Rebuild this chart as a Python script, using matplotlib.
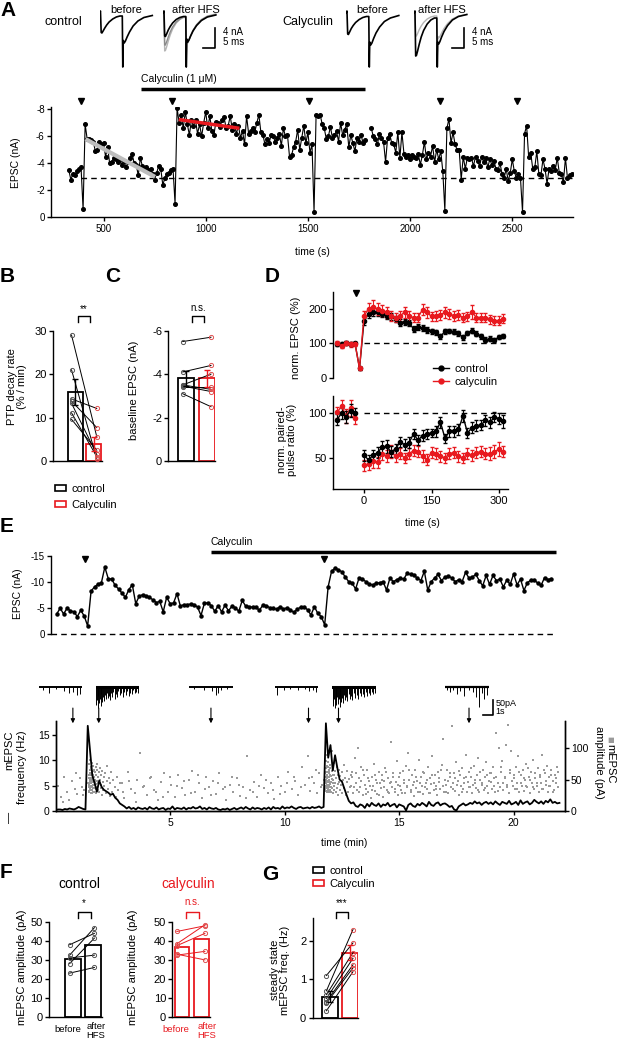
import numpy as np
import matplotlib.pyplot as plt
from matplotlib.patches import Patch
from matplotlib.lines import Line2D

plt.rcParams['font.family'] = ['Liberation Sans', 'DejaVu Sans']
plt.rcParams['axes.unicode_minus'] = False
plt.rcParams['font.size'] = 7
plt.rcParams['axes.linewidth'] = 1.0
plt.rcParams['xtick.major.width'] = 1.0
plt.rcParams['ytick.major.width'] = 1.0
plt.rcParams['xtick.major.size'] = 3
plt.rcParams['ytick.major.size'] = 3
plt.rcParams['xtick.major.pad'] = 2
plt.rcParams['ytick.major.pad'] = 1.5

W, H = 617, 1042
RED = '#e8191f'

# ---------------- data ----------------
# A: example traces (ms, nA)
tr_t = [0, 0.4, 0.7, 1.0, 1.5, 2.2, 3.0, 4.0, 5.5, 7.0, 8.5, 9.5, 9.7, 9.9, 10.3, 10.8, 11.5, 12.5, 14.0, 16.0, 18.5, 22.0]
ctrl_before = [0, 0.4, -3.9, -4.0, -3.6, -3.0, -2.4, -1.8, -1.2, -0.8, -0.6, -0.6, -10.8, -5.5, -6.0, -5.6, -4.8, -3.8, -2.6, -1.6, -0.9, -0.5]
ctrl_after = [0, 0.4, -4.6, -4.7, -4.2, -3.4, -2.7, -2.0, -1.3, -0.9, -0.7, -0.7, -10.8, -5.2, -5.8, -5.4, -4.6, -3.6, -2.5, -1.5, -0.8, -0.4]
ctrl_after_g1 = [0, 0.4, -7.6, -7.5, -6.8, -5.6, -4.4, -3.2, -2.0, -1.3, -0.9, -0.9, -10.8, -5.6, -6.0, -5.5, -4.6, -3.5, -2.3, -1.3, -0.6, -0.2]
ctrl_after_g2 = [0, 0.4, -6.4, -6.4, -5.8, -4.8, -3.8, -2.8, -1.8, -1.2, -0.8, -0.8, -10.8, -5.4, -5.9, -5.4, -4.6, -3.5, -2.4, -1.4, -0.7, -0.3]
caly_before = [0, 0.4, -4.2, -4.3, -3.8, -3.1, -2.5, -1.9, -1.3, -0.9, -0.7, -0.7, -10.8, -5.8, -6.4, -6.0, -5.1, -4.0, -2.8, -1.7, -1.0, -0.5]
caly_after = [0, 0.4, -8.6, -8.5, -7.6, -6.2, -4.8, -3.5, -2.2, -1.4, -1.0, -1.0, -10.8, -5.8, -6.2, -5.7, -4.8, -3.7, -2.5, -1.4, -0.7, -0.3]
caly_after_g = [0, 0.4, -4.6, -4.6, -4.1, -3.3, -2.6, -1.9, -1.2, -0.8, -0.6, -0.6, -10.8, -4.7, -5.0, -4.7, -4.0, -3.1, -2.1, -1.2, -0.6, -0.3]

# A: EPSC amplitude (nA), one point every 10 s starting at 330 s
epsc_seg0 = [-3.5, -2.8, -3.2, -3.1, -3.4, -3.6, -3.7]
epsc_seg1 = [-6.9, -5.8, -5.8, -5.7, -5.6, -4.9, -5.0, -5.6, -5.4, -5.5, -4.5, -5.2, -4.0, -4.1, -4.4,
             -4.3, -4.1, -4.3, -3.9, -4.2, -3.7, -4.1, -4.4, -4.7, -4.0, -3.9, -3.1, -4.4, -3.8, -3.6,
             -3.7, -3.5, -3.6, -3.2, -2.8, -3.3, -3.8, -3.6, -2.4, -2.9, -3.2, -3.3, -3.5, -3.6]
epsc_seg2 = [-8.1, -7.0, -7.6, -6.6, -7.8, -6.9, -6.1, -7.2, -6.8, -7.2, -6.2, -6.9, -6.0, -7.0, -7.8,
             -6.6, -7.5, -6.4, -6.1, -7.1, -7.0, -6.7, -7.2, -7.4, -6.6, -6.8, -7.5, -6.5, -6.9, -6.2,
             -6.8, -5.9, -6.4, -5.4, -7.5, -6.2, -6.4, -6.6, -6.3, -7.0, -7.6, -6.3, -6.1, -5.4, -5.8,
             -5.5, -6.1, -6.0, -5.6, -5.9, -6.2, -5.3, -6.6, -6.0, -6.1, -4.5, -4.6, -5.2, -5.6, -6.5,
             -5.0, -5.9, -6.8, -5.5, -6.3, -4.8, -5.4]
epsc_seg3 = [-7.6, -7.5, -7.6, -6.9, -6.6, -5.8, -6.0, -6.7, -5.9, -6.1, -6.4, -5.6, -7.0, -6.1, -6.5,
             -6.9, -5.2, -6.1, -5.5, -4.9, -5.9, -5.6, -6.1, -5.5, -5.7]
epsc_seg4 = [-6.6, -6.0, -5.8, -5.4, -6.2, -5.9, -5.6, -4.1, -5.9, -6.2, -5.5, -5.4, -4.8, -6.3, -4.4,
             -6.3, -4.7, -4.5, -4.6, -4.3, -4.6, -4.5, -4.4, -4.7, -3.9, -4.6, -5.6, -4.3, -4.8, -4.5,
             -5.3, -4.1, -5.0, -4.3, -4.9, -3.4]
epsc_seg5 = [-6.6, -7.3, -5.5, -6.3, -5.4, -5.0, -5.0, -2.8, -4.5, -3.6, -4.4, -4.3, -4.4, -3.8, -4.5,
             -4.2, -3.8, -4.5, -4.1, -4.4, -3.7, -4.3, -3.9, -4.2, -3.6, -3.5, -4.0, -3.2, -2.9, -3.6,
             -2.7, -3.3, -4.3, -3.4, -2.9, -3.2, -2.9]
epsc_seg6 = [-6.2, -6.8, -4.5, -4.8, -3.6, -3.7, -4.9, -3.2, -3.1, -4.3, -3.6, -2.5, -3.6, -3.4, -3.8,
             -3.5, -4.4, -3.3, -3.2, -2.6, -4.4, -2.9, -3.1, -3.2]
hfs_drop = [-0.6, -1.0, -0.4, -0.5, -0.4]
epsc_a = (epsc_seg0 + [hfs_drop[0]] + epsc_seg1 + [hfs_drop[1]] + epsc_seg2 + [hfs_drop[2]] +
          epsc_seg3 + [np.nan, np.nan] + epsc_seg4 + [hfs_drop[3]] + epsc_seg5 + [hfs_drop[4]] + epsc_seg6)
epsc_t = 330 + 10 * np.arange(len(epsc_a))
hfs_t = [389, 837, 1507, 2148, 2524]
calyA_on = [683, 1779]
fit_grey_t, fit_grey_v = [412, 752], [-5.8, -3.0]
fit_red_t, fit_red_v = [868, 1165], [-7.25, -6.6]
baseline_A = -2.9

# B, C
b_means, b_err = [15.9, 3.9], [2.9, 1.7]
b_ctrl = [29.0, 21.0, 14.3, 13.8, 13.3, 11.1, 9.6]
b_caly = [5.6, 0.5, 12.1, 7.7, 1.5, 1.0, 2.5]
c_means, c_err = [-3.8, -3.8], [0.35, 0.4]
c_ctrl = [-5.5, -4.1, -3.5, -3.5, -3.45, -3.4, -3.1]
c_caly = [-5.7, -4.4, -3.3, -4.0, -3.2, -3.4, -2.5]

# D: normalised EPSC and paired-pulse ratio (%)
d_t = np.r_[np.arange(-60, 0, 10), np.arange(0, 320, 10)]
dtop_ctrl = [98, 97, 101, 98, 100, 27, 165, 185, 192, 190, 186, 180, 178, 170, 160, 163,
             160, 142, 147, 145, 138, 135, 132, 120, 135, 136, 134, 129, 117, 130, 137, 128,
             120, 110, 113, 110, 118, 121]
dtop_ctrl_err = [5, 6, 5, 6, 5, 4, 12, 12, 12, 11, 10, 10, 9, 9, 10, 9, 9, 9, 8, 8, 8, 8, 7, 7,
                 7, 7, 7, 7, 7, 7, 7, 7, 7, 7, 7, 6, 6, 6]
dtop_caly = [100, 93, 100, 97, 99, 27, 180, 200, 205, 200, 195, 190, 180, 175, 180, 190,
             178, 175, 175, 198, 190, 178, 180, 183, 190, 185, 180, 182, 175, 178, 190, 175,
             175, 175, 170, 165, 165, 172]
dtop_caly_err = [6, 8, 6, 7, 6, 4, 15, 18, 20, 18, 17, 15, 15, 14, 14, 16, 15, 14, 14, 16, 15,
                 14, 14, 14, 15, 14, 14, 15, 14, 14, 20, 14, 14, 14, 13, 13, 13, 14]
dbot_ctrl = [93, 100, 96, 103, 100, np.nan, 53, 48, 53, 56, 62, 63, 57, 60, 68, 65, 67, 77,
             70, 75, 77, 78, 80, 90, 72, 80, 80, 82, 97, 78, 84, 86, 87, 92, 90, 96, 94, 91]
dbot_ctrl_err = [6, 6, 7, 7, 6, 0, 6, 5, 6, 6, 7, 7, 6, 6, 6, 6, 6, 6, 6, 6, 6, 5, 6, 6, 5, 6,
                 6, 6, 7, 6, 6, 6, 6, 6, 6, 6, 6, 7]
dbot_caly = [101, 108, 97, 106, 95, np.nan, 42, 43, 47, 45, 55, 52, 57, 52, 55, 50, 55, 58,
             57, 52, 48, 56, 55, 52, 50, 55, 56, 52, 50, 55, 53, 56, 57, 55, 55, 57, 60, 57]
dbot_caly_err = [6, 7, 8, 9, 7, 0, 6, 6, 8, 6, 7, 7, 7, 6, 6, 6, 6, 6, 6, 7, 6, 6, 6, 6, 6, 6,
                 6, 6, 6, 6, 6, 6, 6, 6, 7, 7, 8, 6]
hfs_d = -18

# E top: EPSC amplitude (nA, magnitude), one point every 0.15 min
e_epsc = [3.8, 4.9, 3.8, 4.9, 4.4, 4.2, 3.3, 4.5, 3.4, 1.5,
          8.2, 9.0, 9.5, 9.8, 12.8, 10.6, 10.5, 9.3, 8.6, 7.8, 7.0, 8.5, 9.4, 5.8, 7.2, 7.5, 7.3,
          7.0, 6.5, 6.0, 6.2, 4.2, 7.0, 5.8, 5.9, 7.7, 5.3, 5.6, 5.6, 5.7, 5.6, 5.1, 3.5, 5.9,
          5.9, 5.4, 4.3, 5.4, 4.2, 5.5, 4.4, 5.3, 5.0, 4.3, 6.4, 5.3, 5.2, 5.1, 5.1, 4.5, 5.5,
          5.4, 5.0, 4.9, 4.7,
          5.2, 4.7, 5.0, 4.6, 4.1, 4.7, 5.1, 5.2, 4.6, 3.6, 5.2, 3.9, 3.3, 1.7,
          9.0, 12.0, 12.6, 12.3, 11.9, 10.9, 10.0, 9.7, 8.6, 10.7, 10.5, 10.0, 9.5, 9.4, 9.7,
          9.8, 10.0, 8.4, 10.7, 10.0, 10.4, 10.7, 10.5, 11.6, 11.4, 11.2, 10.7, 10.2, 12.0, 8.4,
          10.0, 10.7, 11.4, 10.2, 10.9, 11.1, 10.7, 10.0, 10.4, 10.0, 11.8, 10.7, 10.9, 11.4,
          10.2, 9.2, 11.2, 9.5, 11.2, 10.2,
          10.5, 9.0, 10.3, 9.5, 11.5, 9.4, 10.5, 8.3, 9.8, 10.3, 10.4, 9.7, 9.3, 10.8, 10.4, 10.6]
e_t = 0.05 + 0.15 * np.arange(len(e_epsc))
hfs_e = [1.3, 11.7]
calyE_on = [6.78, 21.85]

# E bottom: mEPSC frequency (Hz), every 0.1 min
freq_hz = [0.2, 0.3, 0.3, 0.2, 0.4, 0.3, 0.5, 0.4, 0.3, 0.5,
           0.8, 0.6, 0.4, 0.3, 16.8, 12.0, 7.0, 5.5, 3.8, 6.0,
           4.8, 4.2, 3.9, 3.6, 3.2, 3.4, 2.6, 2.2, 1.5, 1.2,
           0.9, 0.5, 0.8, 0.4, 0.6, 0.3, 0.7, 0.5, 0.4, 0.6,
           0.3, 0.8, 0.5, 0.4, 0.7, 0.3, 0.5, 0.6, 0.2, 0.5,
           0.4, 0.9, 0.3, 0.6, 0.5, 0.4, 0.7, 0.3, 0.6, 0.5,
           0.8, 0.5, 0.6, 0.9, 0.4, 0.6, 0.3, 0.7, 0.5, 0.4,
           0.6, 0.3, 0.2, 0.4, 0.3, 0.5, 0.2, 0.4, 0.6, 0.3,
           0.5, 0.7, 0.4, 0.8, 0.5, 0.3, 0.7, 0.4, 0.6, 0.5,
           0.3, 0.6, 0.4, 0.7, 0.3, 0.8, 0.5, 0.6, 0.4, 0.9,
           0.5, 0.7, 0.6, 0.9, 0.6, 0.4, 0.7, 0.8, 0.5, 0.6,
           0.7, 0.5, 0.8, 0.6, 0.7, 0.9, 0.6, 0.8, 17.3, 10.5,
           13.0, 8.0, 11.0, 8.5, 6.2, 5.8, 4.5, 3.2, 2.0, 1.5,
           1.7, 1.0, 0.8, 1.3, 1.1, 0.6, 1.4, 0.9, 1.6, 1.2,
           1.0, 1.5, 0.8, 1.3, 1.1, 1.6, 0.9, 1.2, 1.4, 0.7,
           1.3, 1.1, 0.9, 0.1, 1.2, 1.5, 1.0, 0.8, 1.4, 1.1,
           1.6, 1.3, 0.9, 1.8, 1.2, 1.0, 1.5, 1.7, 1.1, 1.4,
           1.5, 1.2, 0.8, 1.0, 0.3, 0.1, 0.9, 1.2, 1.5, 1.1,
           1.3, 1.6, 1.4, 1.9, 1.5, 1.7, 1.2, 1.6, 1.8, 1.4,
           1.7, 1.3, 1.9, 1.5, 1.2, 1.8, 1.6, 1.4, 2.0, 1.3,
           1.5, 1.8, 1.2, 2.1, 1.4, 1.7, 1.9, 1.3, 1.6, 2.2,
           1.8, 1.5, 1.9, 1.4, 2.0, 1.7, 2.3, 1.6, 1.8, 1.5, 1.6]
freq_t = 0.1 * np.arange(len(freq_hz))

# E bottom: mEPSC events (time min, amplitude pA) as flat pairs
pre_ev = [0.12, 40, 0.25, 22, 0.38, 55, 0.5, 30, 0.6, 18, 0.72, 48, 0.85, 35, 0.95, 27, 1.05, 52,
          1.15, 38, 1.25, 33, 1.35, 45, 0.3, 15, 0.9, 60, 1.2, 25]
burst1_ev = [1.44, 32, 1.45, 58, 1.46, 75, 1.47, 42, 1.48, 65, 1.49, 36, 1.50, 82, 1.51, 50, 1.52, 70,
             1.53, 28, 1.54, 60, 1.55, 45, 1.56, 68, 1.57, 34, 1.58, 77, 1.59, 52, 1.60, 40, 1.61, 63,
             1.62, 47, 1.63, 72, 1.64, 31, 1.65, 56, 1.66, 42, 1.67, 66, 1.68, 37, 1.69, 54, 1.70, 46,
             1.71, 30, 1.72, 62, 1.73, 50, 1.74, 70, 1.75, 35, 1.76, 57, 1.77, 43, 1.78, 28, 1.79, 65,
             1.80, 48, 1.81, 38, 1.82, 75, 1.83, 33, 1.84, 55, 1.86, 44, 1.88, 62, 1.90, 30, 1.92, 50,
             1.94, 68, 1.96, 36, 1.98, 57, 2.00, 42, 2.02, 25, 2.04, 64, 2.06, 46, 2.08, 33, 2.10, 55,
             2.13, 40, 2.16, 60, 2.19, 28, 2.22, 48, 2.25, 72, 2.28, 35, 2.31, 52, 2.35, 24, 2.39, 45,
             2.43, 62, 2.47, 30, 2.52, 50, 2.57, 38, 2.62, 22, 2.67, 55, 2.73, 33, 2.79, 45,
             1.445, 45, 1.455, 38, 1.465, 52, 1.475, 30, 1.485, 48, 1.495, 60, 1.505, 35, 1.515, 44,
             1.525, 57, 1.535, 40, 1.545, 33, 1.555, 53, 1.565, 47, 1.575, 39, 1.585, 61, 1.595, 29,
             1.605, 49, 1.615, 36, 1.625, 58, 1.635, 41]
base_ev = [2.9, 45, 3.0, 20, 3.15, 62, 3.3, 35, 3.45, 28, 3.55, 50, 3.7, 92, 3.85, 40, 4.0, 25,
           4.15, 55, 4.3, 33, 4.45, 18, 4.6, 47, 4.75, 60, 4.9, 30, 5.05, 42, 5.2, 22, 5.35, 58,
           5.5, 37, 5.65, 26, 5.8, 50, 5.95, 63, 6.1, 31, 6.25, 44, 6.4, 20, 6.55, 55, 6.7, 38,
           6.85, 48, 7.0, 27, 7.15, 60, 7.3, 35, 7.45, 18, 7.6, 42, 7.75, 30, 7.9, 52, 8.05, 24,
           8.2, 38, 8.35, 88, 8.5, 33, 8.65, 47, 8.8, 22, 8.95, 58, 9.1, 36, 9.25, 28, 9.4, 45,
           9.55, 19, 9.7, 55, 9.85, 40, 10.0, 30, 10.15, 62, 10.3, 35, 10.45, 48, 10.6, 25,
           10.75, 70, 10.9, 42, 11.0, 88, 11.1, 32, 11.2, 55, 11.3, 45, 11.4, 28, 11.5, 60,
           11.6, 38, 11.7, 50,
           2.95, 30, 3.2, 48, 3.5, 15, 3.8, 38, 4.1, 52, 4.4, 30, 4.7, 22, 5.0, 55, 5.3, 40, 5.6, 48,
           5.9, 28, 6.2, 58, 6.5, 35, 6.8, 25, 7.1, 45, 7.4, 38, 7.7, 55, 8.0, 42, 8.3, 20, 8.6, 30,
           8.9, 40, 9.2, 50, 9.5, 33, 9.8, 27, 10.1, 45, 10.4, 55, 10.7, 38, 11.05, 52, 11.35, 65,
           11.65, 42]
burst2_ev = [11.77, 35, 11.78, 60, 11.79, 80, 11.80, 45, 11.81, 68, 11.82, 38, 11.83, 90, 11.84, 52,
             11.85, 72, 11.86, 30, 11.87, 62, 11.88, 47, 11.89, 70, 11.90, 36, 11.91, 78, 11.92, 55,
             11.93, 42, 11.94, 65, 11.95, 48, 11.96, 74, 11.97, 33, 11.98, 58, 11.99, 44, 12.00, 68,
             12.01, 39, 12.02, 56, 12.03, 47, 12.04, 31, 12.05, 64, 12.06, 51, 12.07, 95, 12.08, 36,
             12.09, 58, 12.10, 45, 12.11, 29, 12.12, 66, 12.13, 50, 12.14, 40, 12.15, 76, 12.16, 34,
             12.17, 57, 12.19, 45, 12.21, 63, 12.23, 31, 12.25, 52, 12.27, 70, 12.29, 37, 12.31, 58,
             12.33, 43, 12.35, 26, 12.37, 66, 12.39, 47, 12.41, 34, 12.43, 56, 12.46, 41, 12.49, 62,
             12.52, 29, 12.55, 49, 12.58, 73, 12.61, 36, 12.64, 53, 12.67, 25, 12.70, 46, 12.74, 63,
             12.78, 31, 12.82, 51, 12.86, 39, 12.90, 57, 11.775, 48, 11.785, 40, 11.795, 55,
             11.805, 32, 11.815, 50, 11.825, 62, 11.835, 37, 11.845, 46, 11.855, 58, 11.865, 42,
             11.875, 34, 11.885, 54, 11.895, 48, 11.905, 40, 11.915, 63, 11.925, 30, 11.935, 50,
             11.945, 38, 11.955, 60, 11.965, 43]
post_ev = [12.90, 40, 12.95, 62, 13.00, 28, 13.05, 85, 13.10, 45, 13.15, 33, 13.20, 100, 13.25, 52,
           13.30, 38, 13.35, 70, 13.40, 25, 13.45, 58, 13.50, 42, 13.55, 35, 13.60, 66, 13.65, 30,
           13.70, 48, 13.75, 20, 13.80, 55, 13.85, 40, 13.90, 75, 13.95, 32, 14.00, 50, 14.05, 27,
           14.10, 62, 14.15, 44, 14.20, 36, 14.25, 58, 14.30, 22, 14.35, 48, 14.40, 68, 14.45, 34,
           14.50, 52, 14.55, 28, 14.60, 45, 14.65, 110, 14.70, 38, 14.75, 60, 14.80, 30, 14.85, 47,
           14.90, 80, 14.95, 25, 15.00, 55, 15.05, 40, 15.10, 33, 15.15, 63, 15.20, 45, 15.25, 28,
           15.30, 72, 15.35, 38, 15.40, 92, 15.45, 50, 15.50, 30, 15.55, 57, 15.60, 42, 15.65, 24,
           15.70, 65, 15.75, 36, 15.80, 48, 15.85, 82, 15.90, 31, 15.95, 54, 16.00, 40, 16.05, 27,
           16.10, 60, 16.15, 45, 16.20, 35, 16.25, 70, 16.30, 28, 16.35, 52, 16.40, 43, 16.45, 88,
           16.50, 33, 16.55, 58, 16.60, 40, 16.65, 25, 16.70, 62, 16.75, 47, 16.80, 35, 16.85, 73,
           16.90, 115, 16.95, 30, 17.00, 50, 17.05, 42, 17.10, 66, 17.15, 28, 17.20, 55, 17.25, 38,
           17.30, 135, 17.35, 45, 17.40, 60, 17.45, 32, 17.50, 78, 17.55, 48, 17.60, 26, 17.65, 57,
           17.70, 40, 17.75, 68, 17.80, 35, 17.85, 52, 17.90, 90, 17.95, 30, 18.00, 46, 18.05, 62,
           18.10, 38, 18.15, 55, 18.20, 28, 18.25, 72, 18.30, 44, 18.35, 36, 18.40, 58, 18.45, 85,
           18.50, 30, 18.55, 50, 18.60, 42, 18.65, 65, 18.70, 33, 18.75, 55, 18.80, 78, 18.85, 40,
           18.90, 28, 18.95, 60, 19.00, 47, 19.05, 35, 19.10, 70, 19.15, 52, 19.20, 30, 19.25, 125,
           19.30, 45, 19.35, 100, 19.40, 38, 19.45, 62, 19.50, 80, 19.55, 33, 19.60, 55, 19.65, 105,
           19.70, 42, 19.75, 137, 19.80, 28, 19.85, 60, 19.90, 95, 19.95, 40, 20.00, 52, 20.05, 35,
           20.10, 70, 20.15, 45, 20.20, 88, 20.25, 30, 20.30, 58, 20.35, 40, 20.40, 65, 20.45, 32,
           20.50, 50, 20.55, 75, 20.60, 38, 20.65, 55, 20.70, 28, 20.75, 62, 20.80, 45, 20.85, 82,
           20.90, 35, 20.95, 52, 21.00, 40, 21.05, 68, 21.10, 30, 21.15, 57, 21.20, 45, 21.25, 90,
           21.30, 35, 21.35, 60, 21.40, 42, 21.45, 72, 21.50, 30, 21.55, 55, 21.60, 40, 21.65, 65,
           21.70, 48, 21.75, 33, 21.80, 58, 21.85, 45, 21.90, 70, 21.95, 38,
           12.93, 55, 13.03, 38, 13.13, 60, 13.23, 30, 13.33, 48, 13.43, 65, 13.53, 27, 13.63, 52,
           13.73, 40, 13.83, 33, 13.93, 58, 14.03, 44, 14.13, 25, 14.23, 50, 14.33, 38, 14.43, 62,
           14.53, 30, 14.63, 46, 14.73, 55, 14.83, 35, 14.93, 42, 15.03, 60, 15.13, 28, 15.23, 50,
           15.33, 40, 15.43, 65, 15.53, 33, 15.63, 47, 15.73, 55, 15.83, 30, 15.93, 45, 16.03, 62,
           16.13, 38, 16.23, 50, 16.33, 28, 16.43, 58, 16.53, 44, 16.63, 35, 16.73, 52, 16.83, 66,
           16.93, 40, 17.03, 30, 17.13, 48, 17.23, 60, 17.33, 35, 17.43, 52, 17.53, 42, 17.63, 64,
           17.73, 30, 17.83, 45, 17.93, 55, 18.03, 38, 18.13, 68, 18.23, 42, 18.33, 50, 18.43, 33,
           18.53, 62, 18.63, 45, 18.73, 36, 18.83, 58, 18.93, 48, 19.03, 60, 19.13, 40, 19.23, 55,
           19.33, 32, 19.43, 70, 19.53, 45, 19.63, 52, 19.73, 38, 19.83, 65, 19.93, 48, 20.03, 58,
           20.13, 35, 20.23, 62, 20.33, 45, 20.43, 52, 20.53, 40, 20.63, 68, 20.73, 50, 20.83, 38,
           20.93, 60, 21.03, 45, 21.13, 55, 21.23, 35, 21.33, 65, 21.43, 48, 21.53, 40, 21.63, 58,
           21.73, 30, 21.83, 52, 21.93, 62]
arrow_t = [0.75, 1.88, 6.78, 11.04, 12.35, 18.05]

# E: mEPSC example traces (s, pA)
mt1 = [(0.4, 12), (1.0, 20), (1.7, 8), (2.5, 14), (3.0, 22), (3.4, 16), (3.8, 26), (4.1, 24)]
mt2 = [(0.05, 60), (0.12, 45), (0.2, 70), (0.28, 30), (0.35, 55), (0.42, 40), (0.5, 65), (0.58, 25),
       (0.66, 50), (0.74, 35), (0.82, 48), (0.9, 28), (1.0, 42), (1.1, 20), (1.2, 38), (1.3, 30),
       (1.4, 45), (1.5, 22), (1.62, 35), (1.75, 18), (1.88, 40), (2.0, 25), (2.12, 33), (2.25, 15),
       (2.4, 28), (2.55, 20), (2.7, 35), (2.85, 18), (3.0, 26), (3.15, 14), (3.3, 30), (3.45, 20),
       (3.6, 24), (3.75, 12), (3.9, 22), (4.05, 16), (4.2, 20)]
mt3 = [(0.5, 8), (1.5, 10), (2.2, 14), (2.6, 28), (2.8, 22), (3.1, 12), (3.7, 6)]
mt4 = [(0.2, 28), (0.9, 10), (1.5, 8), (2.3, 12), (3.0, 9), (3.4, 14), (3.8, 10), (4.1, 16)]
mt5 = [(0.05, 55), (0.12, 65), (0.2, 40), (0.28, 70), (0.35, 45), (0.42, 60), (0.5, 35), (0.58, 58),
       (0.66, 42), (0.74, 66), (0.82, 30), (0.9, 52), (1.0, 38), (1.1, 55), (1.2, 28), (1.3, 45),
       (1.4, 33), (1.5, 48), (1.62, 25), (1.75, 40), (1.88, 30), (2.0, 44), (2.12, 22), (2.25, 36),
       (2.4, 28), (2.55, 40), (2.7, 20), (2.85, 32), (3.0, 25), (3.15, 35), (3.3, 18), (3.45, 30),
       (3.6, 22), (3.75, 28), (3.9, 16), (4.05, 25), (4.2, 20)]
mt6 = [(0.2, 10), (0.5, 18), (0.8, 12), (1.2, 25), (1.5, 14), (1.9, 30), (2.3, 12), (2.7, 18),
       (3.0, 35), (3.3, 68), (3.6, 20), (3.85, 40), (4.1, 28)]

# F, G
f_ctrl_means = [30.5, 38.0]
f_ctrl_before = [38, 32.5, 31, 28, 23]
f_ctrl_after = [44, 47, 32.5, 41.5, 26]
f_caly_means = [37.0, 41.0]
f_caly_before = [45, 38.5, 37.5, 33, 32.5]
f_caly_after = [48, 48.5, 44, 30, 34.5]
g_means, g_err = [0.55, 1.7], [0.15, 0.2]
g_ctrl = [1.1, 0.7, 0.6, 0.5, 0.42, 0.38, 0.18]
g_caly = [1.95, 2.3, 1.7, 1.55, 1.38, 1.3, 1.2]

# ---------------- helpers ----------------
fig = plt.figure(figsize=(W / 100, H / 100), dpi=100)


def box(x0, y0, x1, y1):
    ax = fig.add_axes([x0 / W, 1 - y1 / H, (x1 - x0) / W, (y1 - y0) / H])
    ax.patch.set_visible(False)
    return ax


def ftext(x, y, s, **kw):
    kw.setdefault('ha', 'center')
    kw.setdefault('va', 'center')
    fig.text(x / W, 1 - y / H, s, **kw)


def clean(ax, bottom=True):
    ax.spines['top'].set_visible(False)
    ax.spines['right'].set_visible(False)
    if not bottom:
        ax.spines['bottom'].set_visible(False)
        ax.tick_params(bottom=False, labelbottom=False)


def trace_box(x0, x1, traces):
    ax = box(x0, 9, x1, 69)
    ax.set_xlim(0, 22.5)
    ax.set_ylim(-11.2, 0.8)
    ax.axis('off')
    for vals, col, lw in traces:
        ax.plot(tr_t, vals, color=col, lw=lw)


def scale_bar(x0, y0, x1, y1, xlen, ylen):
    ax = box(x0, y0, x1, y1)
    ax.set_xlim(0, xlen)
    ax.set_ylim(0, ylen)
    ax.axis('off')
    ax.plot([0, xlen, xlen], [0, 0, ylen], color='k', lw=1.2, clip_on=False)


def paired_bars(ax, means, errs, edge, pa, pb, xa, xb, pcol, width):
    for k in range(2):
        ax.bar(k, means[k], width=width, facecolor='white', edgecolor=edge[k], lw=1.3, zorder=1)
    for a, b in zip(pa, pb):
        ax.plot([xa, xb], [a, b], color=pcol[2], lw=0.7, zorder=2)
    ax.plot([xa] * len(pa), pa, 'o', mfc='none', mec=pcol[0], ms=3, mew=0.7, zorder=3)
    ax.plot([xb] * len(pb), pb, 'o', mfc='none', mec=pcol[1], ms=3, mew=0.7, zorder=3)
    if errs is not None:
        for k in range(2):
            ax.errorbar(k, means[k], yerr=errs[k], color=edge[k], capsize=2, lw=1,
                        capthick=1, zorder=4)


def bracket(ax, x0, x1, ytop, yleg, text, ytext, color='k', fs=7):
    ax.plot([x0, x0, x1, x1], [yleg, ytop, ytop, yleg], color=color, lw=1, clip_on=False)
    ax.text((x0 + x1) / 2, ytext, text, ha='center', va='center', fontsize=fs,
            color=color, clip_on=False)


def mini_trace(x0, x1, spikes, lw_base):
    ax = box(x0, 684.3, x1, 710.7)
    ax.set_xlim(0, 4.3)
    ax.set_ylim(-80, 8)
    ax.axis('off')
    ax.plot([0, 4.3], [0, 0], color='k', lw=lw_base)
    ax.vlines([s[0] for s in spikes], [-s[1] for s in spikes], 0, color='k', lw=0.7)


# ---------------- panel A ----------------
ftext(8, 11, 'A', fontsize=15, fontweight='bold')
ftext(63, 22, 'control', fontsize=9)
ftext(308, 22, 'Calyculin', fontsize=9)
ftext(126, 10, 'before', fontsize=8)
ftext(196, 10, 'after HFS', fontsize=8)
ftext(372, 10, 'before', fontsize=8)
ftext(442, 10, 'after HFS', fontsize=8)
trace_box(99.5, 153.5, [(ctrl_before, 'k', 1.2)])
trace_box(163, 217, [(ctrl_after_g1, '#b5b5b5', 1.0), (ctrl_after_g2, '#8a8a8a', 1.0),
                     (ctrl_after, 'k', 1.2)])
trace_box(346, 400, [(caly_before, 'k', 1.2)])
trace_box(414, 468, [(caly_after_g, '#b5b5b5', 1.0), (caly_after, 'k', 1.2)])
scale_bar(203, 28, 215, 48, 5, 4)
scale_bar(452, 28, 464, 48, 5, 4)
ftext(223, 32, '4 nA', fontsize=7, ha='left')
ftext(223, 42, '5 ms', fontsize=7, ha='left')
ftext(472, 32, '4 nA', fontsize=7, ha='left')
ftext(472, 42, '5 ms', fontsize=7, ha='left')

axA = box(51, 106.7, 573, 217.3)
clean(axA)
axA.set_xlim(243, 2797)
axA.set_ylim(0, -8.2)
axA.set_yticks([-8, -6, -4, -2, 0])
axA.set_xticks([500, 1000, 1500, 2000, 2500])
axA.plot([390, 2790], [baseline_A, baseline_A], color='k', lw=1, dashes=(4, 3))
axA.plot(fit_grey_t, fit_grey_v, color='#bdbdbd', lw=3, solid_capstyle='butt', zorder=3)
axA.plot(epsc_t, epsc_a, color='k', lw=0.8, marker='o', ms=2.6, zorder=2)
axA.plot(fit_red_t, fit_red_v, color=RED, lw=2.5, solid_capstyle='butt', zorder=4)
axA.plot(hfs_t, [-8.64] * len(hfs_t), 'kv', ms=4, clip_on=False)
axA.plot(calyA_on, [-9.5, -9.5], color='k', lw=2.5, clip_on=False, solid_capstyle='butt')
axA.text(calyA_on[0], -9.85, 'Calyculin (1 μM)', fontsize=7.5, va='bottom', ha='left')
ftext(16, 163, 'EPSC (nA)', rotation=90, fontsize=7.5)
ftext(312, 252, 'time (s)', fontsize=7.5)

# ---------------- panel B ----------------
ftext(7, 276, 'B', fontsize=15, fontweight='bold')
axB = box(53, 330.7, 102, 461)
clean(axB)
axB.set_xlim(-1.19, 1.43)
axB.set_ylim(0, 30)
axB.set_yticks([0, 10, 20, 30])
axB.set_xticks([])
axB.tick_params(labelsize=8)
paired_bars(axB, b_means, b_err, ['k', RED], b_ctrl, b_caly, -0.2, 1.15,
            ['#555555', '#e05050', 'k'], 0.8)
bracket(axB, 0.15, 0.79, 33.4, 31.9, '**', 34.9)
ftext(17, 387, 'PTP decay rate\n(% / min)', rotation=90, fontsize=8, linespacing=1.1)
fig.legend(handles=[Patch(facecolor='white', edgecolor='k', lw=1.2),
                    Patch(facecolor='white', edgecolor=RED, lw=1.2)],
           labels=['control', 'Calyculin'], loc='upper left',
           bbox_to_anchor=(55 / W, 1 - 484 / H), frameon=False, fontsize=8,
           handlelength=1.0, handleheight=0.5, handletextpad=0.5, labelspacing=0.55,
           borderaxespad=0, borderpad=0)

# ---------------- panel C ----------------
ftext(113, 276, 'C', fontsize=15, fontweight='bold')
axC = box(168.3, 330.7, 215, 461)
clean(axC)
axC.set_xlim(-0.84, 1.38)
axC.set_ylim(0, -6)
axC.set_yticks([-6, -4, -2, 0])
axC.set_xticks([])
axC.tick_params(labelsize=8)
paired_bars(axC, c_means, c_err, ['k', RED], c_ctrl, c_caly, -0.16, 1.19,
            ['#555555', '#e05050', 'k'], 0.79)
bracket(axC, 0.29, 0.86, -6.69, -6.38, 'n.s.', -7.05)
ftext(134, 390, 'baseline EPSC (nA)', rotation=90, fontsize=8)

# ---------------- panel D ----------------
ftext(272, 276, 'D', fontsize=15, fontweight='bold')
axDt = box(332.7, 291.7, 508.3, 377.7)
clean(axDt, bottom=False)
axDt.set_xlim(-69.6, 320.7)
axDt.set_ylim(0, 250)
axDt.set_yticks([0, 100, 200])
axDt.plot([0, 318], [100, 100], color='k', lw=1, dashes=(4, 3))
axDt.errorbar(d_t, dtop_ctrl, yerr=dtop_ctrl_err, color='k', marker='o', ms=3, lw=1,
              capsize=1.5, elinewidth=0.8)
axDt.errorbar(d_t, dtop_caly, yerr=dtop_caly_err, color=RED, marker='o', ms=3, lw=1,
              capsize=1.5, elinewidth=0.8)
axDt.plot([hfs_d], [247], 'kv', ms=4, clip_on=False)
axDt.legend(handles=[Line2D([0], [0], color='k', marker='o', ms=3.5, lw=1),
                     Line2D([0], [0], color=RED, marker='o', ms=3.5, lw=1)],
            labels=['control', 'calyculin'], loc='upper left',
            bbox_to_anchor=(433 / W, 1 - 364 / H), bbox_transform=fig.transFigure,
            frameon=False, fontsize=8, handlelength=1.4, handletextpad=0.5,
            labelspacing=0.3, borderaxespad=0, borderpad=0)

axDb = box(332.7, 396, 508.3, 489)
clean(axDb)
axDb.set_xlim(-69.6, 320.7)
axDb.set_ylim(15.3, 119.4)
axDb.set_yticks([50, 100])
axDb.set_xticks([0, 150, 300])
axDb.plot([0, 318], [100, 100], color='k', lw=1, dashes=(4, 3))
axDb.errorbar(d_t, dbot_caly, yerr=dbot_caly_err, color=RED, marker='o', ms=3, lw=1,
              capsize=1.5, elinewidth=0.8)
axDb.errorbar(d_t, dbot_ctrl, yerr=dbot_ctrl_err, color='k', marker='o', ms=3, lw=1,
              capsize=1.5, elinewidth=0.8)
for a in (axDt, axDb):
    a.tick_params(labelsize=8)
ftext(296, 338, 'norm. EPSC (%)', rotation=90, fontsize=8)
ftext(287, 440, 'norm. paired-\npulse ratio (%)', rotation=90, fontsize=8, linespacing=1.1)
ftext(422, 523, 'time (s)', fontsize=7.5)

# ---------------- panel E ----------------
ftext(7, 527, 'E', fontsize=15, fontweight='bold')
axEt = box(51, 555.7, 556, 633.7)
clean(axEt, bottom=False)
axEt.set_xlim(-0.2, 21.85)
axEt.set_ylim(0, -15)
axEt.set_yticks([-15, -10, -5, 0])
axEt.plot([-0.2, 21.85], [0, 0], color='k', lw=1, dashes=(4, 3), clip_on=False)
axEt.plot(e_t, [-v for v in e_epsc], color='k', lw=1, marker='o', ms=2.2)
axEt.plot(hfs_e, [-14.4] * len(hfs_e), 'kv', ms=4, clip_on=False)
axEt.plot(calyE_on, [-15.8, -15.8], color='k', lw=2.5, clip_on=False, solid_capstyle='butt')
axEt.text(calyE_on[0], -16.6, 'Calyculin', fontsize=7.5, va='bottom', ha='left')
ftext(18, 594, 'EPSC (nA)', rotation=90, fontsize=7.5)

mini_trace(39, 82, mt1, 1.4)
mini_trace(95.5, 139, mt2, 2.2)
mini_trace(189, 233, mt3, 1.4)
mini_trace(275, 318, mt4, 1.4)
mini_trace(332, 376, mt5, 2.2)
mini_trace(445, 489, mt6, 1.6)
scale_bar(482.5, 700, 492.8, 715, 1, 50)
ftext(495.5, 703, '50pA', fontsize=6.5, ha='left')
ftext(495.5, 712, '1s', fontsize=6.5, ha='left')

axEb = box(55.7, 721, 564.5, 811)
axAmp = axEb.twinx()
axEb.set_zorder(axAmp.get_zorder() + 1)
axEb.patch.set_visible(False)
axEb.spines['top'].set_visible(False)
axAmp.spines['top'].set_visible(False)
axEb.set_xlim(0, 22.22)
axEb.set_ylim(0, 17.75)
axAmp.set_ylim(0, 143.5)
axEb.set_xticks([5, 10, 15, 20])
axEb.set_yticks([0, 5, 10, 15])
axAmp.set_yticks([0, 50, 100])
ev = np.array(pre_ev + burst1_ev + base_ev + burst2_ev + post_ev).reshape(-1, 2)
axAmp.scatter(ev[:, 0], ev[:, 1], s=3.2, marker='s', color='#9a9a9a', lw=0)
axEb.plot(freq_t, freq_hz, color='k', lw=1.3)
for t in arrow_t:
    axEb.annotate('', xy=(t, 17.3), xytext=(t, 20.3), annotation_clip=False,
                  arrowprops=dict(arrowstyle='-|>', lw=0.8, color='k', mutation_scale=6,
                                  shrinkA=0, shrinkB=0))
for a in (axEb, axAmp):
    a.tick_params(labelsize=7.5)
ftext(9, 817, '—', rotation=90, fontsize=8)
ftext(9, 750, 'mEPSC', rotation=90, fontsize=8)
ftext(22, 767, 'frequency (Hz)', rotation=90, fontsize=8)
ftext(610, 739, '■', rotation=270, fontsize=8, color='#9a9a9a')
ftext(610, 764, 'mEPSC', rotation=270, fontsize=8)
ftext(599, 762, 'amplitude (pA)', rotation=270, fontsize=8)
ftext(344, 843, 'time (min)', fontsize=7.5)

# ---------------- panel F ----------------
ftext(6, 873, 'F', fontsize=15, fontweight='bold')
ftext(79, 884, 'control', fontsize=10)
ftext(188, 884, 'calyculin', fontsize=10, color=RED)
axF1 = box(49, 922, 101.5, 1016.7)
clean(axF1)
axF1.set_xlim(-1.2, 1.425)
axF1.set_ylim(0, 50)
axF1.set_yticks([0, 10, 20, 30, 40, 50])
axF1.set_xticks([])
axF1.tick_params(axis='y', labelsize=8)
paired_bars(axF1, f_ctrl_means, None, ['k', 'k'], f_ctrl_before, f_ctrl_after, -0.17, 1.07,
            ['#555555', '#555555', 'k'], 0.8)
bracket(axF1, 0.23, 0.89, 55.4, 52.1, '*', 60.2)
ftext(68, 1029, 'before', fontsize=6.8)
ftext(96, 1031, 'after\nHFS', fontsize=6.8, linespacing=1.05)
ftext(22, 967, 'mEPSC amplitude (pA)', rotation=90, fontsize=8)

axF2 = box(172.4, 922, 210, 1016.7)
clean(axF2)
axF2.set_xlim(-0.49, 1.44)
axF2.set_ylim(0, 50)
axF2.set_yticks([0, 10, 20, 30, 40, 50])
axF2.set_xticks([])
axF2.tick_params(axis='y', labelsize=8)
paired_bars(axF2, f_caly_means, None, [RED, RED], f_caly_before, f_caly_after, -0.26, 1.18,
            ['#e05050', '#e05050', RED], 0.75)
bracket(axF2, 0.2, 0.87, 55.4, 52.1, 'n.s.', 60.8, color=RED)
ftext(176, 1029, 'before', fontsize=6.8, color=RED)
ftext(207, 1031, 'after\nHFS', fontsize=6.8, color=RED, linespacing=1.05)
ftext(133, 967, 'mEPSC amplitude (pA)', rotation=90, fontsize=8)

# ---------------- panel G ----------------
ftext(270, 875, 'G', fontsize=15, fontweight='bold')
axG = box(312.5, 918, 358, 1017.7)
clean(axG)
axG.set_xlim(-0.875, 1.4)
axG.set_ylim(0, 2.6)
axG.set_yticks([0, 1, 2])
axG.set_xticks([])
axG.tick_params(labelsize=8)
paired_bars(axG, g_means, g_err, ['k', RED], g_ctrl, g_caly, -0.18, 1.15,
            ['#555555', '#e05050', 'k'], 0.8)
bracket(axG, 0.28, 0.92, 2.76, 2.6, '***', 3.0)
ftext(280, 970, 'steady state\nmEPSC freq. (Hz)', rotation=90, fontsize=8, linespacing=1.1)
fig.legend(handles=[Patch(facecolor='white', edgecolor='k', lw=1.2),
                    Patch(facecolor='white', edgecolor=RED, lw=1.2)],
           labels=['control', 'Calyculin'], loc='upper left',
           bbox_to_anchor=(313 / W, 1 - 866 / H), frameon=False, fontsize=8,
           handlelength=1.0, handleheight=0.5, handletextpad=0.5, labelspacing=0.25,
           borderaxespad=0, borderpad=0)

fig.savefig('out.png', dpi=100)
